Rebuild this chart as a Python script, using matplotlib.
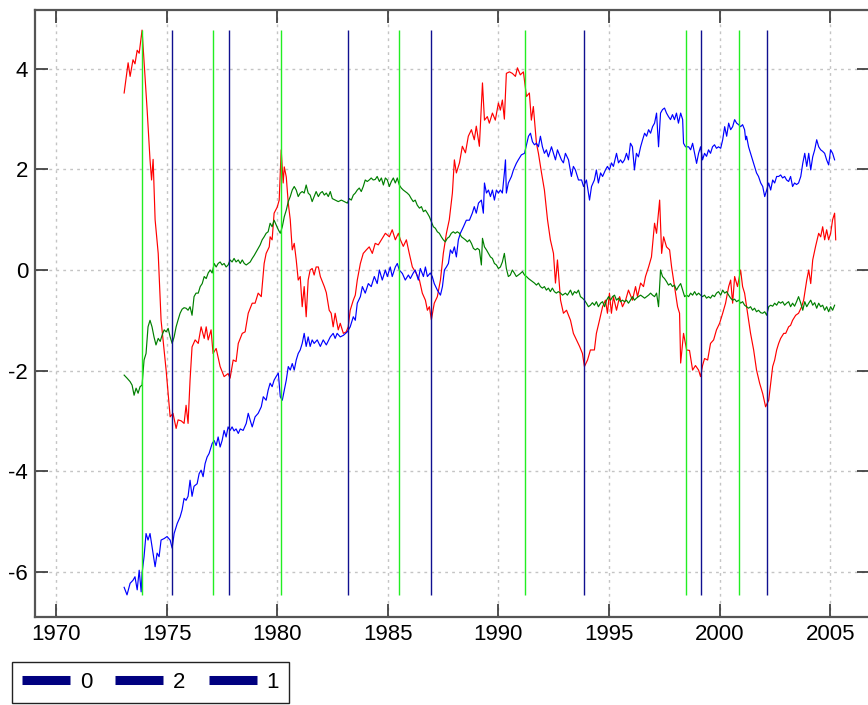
import matplotlib
matplotlib.use("Agg")
import matplotlib.pyplot as plt
from matplotlib.lines import Line2D

plt.rcParams['font.family'] = ['Liberation Sans', 'DejaVu Sans']
plt.rcParams['axes.unicode_minus'] = False

# red series (year, value)
red_years = [1973.08, 1973.26, 1973.35, 1973.48, 1973.57, 1973.67, 1973.76, 1973.89, 1974.12, 1974.25,
             1974.32, 1974.39, 1974.48, 1974.62, 1974.75, 1974.98, 1975.16, 1975.29, 1975.43, 1975.52,
             1975.66, 1975.79, 1975.88, 1975.97, 1976.06, 1976.15, 1976.29, 1976.43, 1976.56, 1976.70,
             1976.79, 1976.88, 1977.01, 1977.10, 1977.24, 1977.42, 1977.60, 1977.78, 1977.87, 1978.01,
             1978.14, 1978.24, 1978.42, 1978.55, 1978.69, 1978.87, 1979.00, 1979.14, 1979.28, 1979.41,
             1979.50, 1979.64, 1979.68, 1979.77, 1979.86, 1980.00, 1980.09, 1980.18, 1980.27, 1980.32,
             1980.41, 1980.50, 1980.59, 1980.68, 1980.77, 1980.86, 1980.95, 1981.04, 1981.13, 1981.22,
             1981.31, 1981.40, 1981.49, 1981.58, 1981.67, 1981.76, 1981.86, 1981.95, 1982.13, 1982.22,
             1982.35, 1982.44, 1982.53, 1982.62, 1982.76, 1982.85, 1982.99, 1983.12, 1983.21, 1983.30,
             1983.44, 1983.53, 1983.62, 1983.76, 1983.89, 1984.03, 1984.16, 1984.30, 1984.43, 1984.57,
             1984.71, 1984.89, 1985.07, 1985.20, 1985.34, 1985.48, 1985.57, 1985.70, 1985.84, 1985.97,
             1986.11, 1986.29, 1986.43, 1986.56, 1986.70, 1986.79, 1986.88, 1986.97, 1987.10, 1987.24,
             1987.38, 1987.51, 1987.65, 1987.78, 1987.92, 1988.01, 1988.10, 1988.24, 1988.37, 1988.51,
             1988.64, 1988.78, 1988.91, 1989.00, 1989.14, 1989.28, 1989.37, 1989.50, 1989.59, 1989.73,
             1989.86, 1990.00, 1990.09, 1990.18, 1990.27, 1990.36, 1990.50, 1990.63, 1990.77, 1990.86,
             1990.99, 1991.13, 1991.27, 1991.40, 1991.49, 1991.58, 1991.72, 1991.81, 1991.95, 1992.08,
             1992.22, 1992.35, 1992.49, 1992.58, 1992.67, 1992.81, 1992.94, 1993.08, 1993.26, 1993.39,
             1993.53, 1993.67, 1993.80, 1993.89, 1994.03, 1994.16, 1994.34, 1994.43, 1994.57, 1994.71,
             1994.84, 1994.93, 1995.02, 1995.11, 1995.20, 1995.34, 1995.48, 1995.61, 1995.75, 1995.88,
             1996.06, 1996.20, 1996.29, 1996.43, 1996.56, 1996.65, 1996.79, 1996.92, 1997.06, 1997.15,
             1997.29, 1997.38, 1997.47, 1997.60, 1997.74, 1997.83, 1997.92, 1998.01, 1998.10, 1998.19,
             1998.24, 1998.37, 1998.51, 1998.64, 1998.78, 1998.91, 1999.05, 1999.14, 1999.23, 1999.32,
             1999.46, 1999.59, 1999.73, 1999.86, 2000.00, 2000.14, 2000.27, 2000.41, 2000.50, 2000.59,
             2000.68, 2000.81, 2000.95, 2001.04, 2001.13, 2001.22, 2001.40, 2001.54, 2001.67, 2001.81,
             2001.95, 2002.08, 2002.22, 2002.31, 2002.40, 2002.49, 2002.58, 2002.67, 2002.76, 2002.90,
             2002.99, 2003.12, 2003.21, 2003.30, 2003.44, 2003.57, 2003.71, 2003.80, 2003.94, 2004.03,
             2004.12, 2004.21, 2004.34, 2004.48, 2004.57, 2004.66, 2004.75, 2004.84, 2004.93, 2005.02,
             2005.11, 2005.20, 2005.25]
red_vals = [3.52, 4.12, 3.85, 4.18, 4.10, 4.37, 4.31, 4.77, 3.18, 2.19,
            1.79, 2.20, 1.00, 0.33, -1.00, -2.00, -2.92, -2.85, -3.15, -2.98,
            -3.00, -3.05, -2.69, -3.05, -2.19, -1.53, -1.39, -1.46, -1.13, -1.36,
            -1.13, -1.39, -1.19, -1.66, -1.56, -1.92, -2.12, -2.06, -2.15, -1.79,
            -1.82, -1.46, -1.26, -1.23, -0.86, -0.66, -0.66, -0.46, -0.53, 0.13,
            0.33, 0.46, 0.66, 0.60, 1.13, 1.25, 1.39, 2.39, 1.73, 2.05,
            1.85, 1.33, 1.00, 0.40, 0.53, 0.20, -0.20, -0.13, -0.73, -0.33,
            -0.93, -0.20, 0.00, 0.03, -0.10, 0.06, 0.06, -0.13, -0.33, -0.45,
            -0.80, -0.86, -1.13, -0.86, -1.19, -1.06, -1.26, -1.23, -1.13, -0.80,
            -0.60, -0.50, -0.20, 0.13, 0.33, 0.40, 0.46, 0.33, 0.53, 0.50,
            0.60, 0.73, 0.66, 0.80, 0.60, 0.73, 0.60, 0.47, 0.60, 0.33,
            0.06, -0.07, -0.20, -0.46, -0.60, -0.80, -0.73, -0.99, -0.66, -0.53,
            -0.20, 0.33, 0.73, 1.00, 1.53, 2.19, 1.93, 2.13, 2.46, 2.33,
            2.66, 2.79, 2.59, 2.86, 2.46, 3.72, 2.98, 3.05, 2.92, 3.12,
            2.98, 3.32, 3.18, 3.38, 3.00, 3.91, 3.94, 3.91, 3.85, 4.02,
            3.88, 3.94, 3.45, 3.52, 2.98, 3.25, 2.52, 2.32, 1.93, 1.59,
            1.00, 0.60, 0.33, -0.26, 0.20, -0.60, -0.86, -0.80, -1.00, -1.26,
            -1.39, -1.52, -1.66, -1.92, -1.79, -1.59, -1.59, -1.26, -1.00, -0.73,
            -0.60, -0.86, -0.46, -0.86, -0.53, -0.80, -0.53, -0.73, -0.60, -0.40,
            -0.60, -0.33, -0.53, -0.26, -0.33, -0.13, 0.06, 0.26, 0.93, 0.73,
            1.39, 0.33, 0.66, 0.46, 0.40, 0.06, -0.20, -0.46, -0.73, -0.86,
            -1.85, -1.26, -1.59, -1.60, -1.99, -1.90, -1.99, -2.12, -1.90, -1.76,
            -1.79, -1.46, -1.39, -1.19, -1.06, -0.86, -0.66, -0.33, -0.20, -0.66,
            -0.13, -0.33, 0.00, -0.33, -0.46, -0.73, -1.26, -1.59, -1.99, -2.25,
            -2.46, -2.72, -2.59, -2.25, -1.92, -1.79, -1.59, -1.46, -1.36, -1.26,
            -1.26, -1.13, -1.10, -1.00, -0.90, -0.86, -0.73, -0.60, -0.20, 0.00,
            -0.27, 0.20, 0.47, 0.73, 0.66, 0.86, 0.60, 0.80, 0.60, 0.73,
            1.00, 1.13, 0.60]

# blue series
blue_years = [1973.08, 1973.21, 1973.35, 1973.48, 1973.57, 1973.67, 1973.76, 1973.85, 1973.89, 1973.98,
              1974.07, 1974.16, 1974.25, 1974.34, 1974.48, 1974.57, 1974.66, 1974.75, 1974.89, 1975.02,
              1975.16, 1975.25, 1975.34, 1975.48, 1975.61, 1975.70, 1975.79, 1975.88, 1975.97, 1976.06,
              1976.15, 1976.24, 1976.38, 1976.47, 1976.56, 1976.65, 1976.74, 1976.83, 1976.92, 1977.06,
              1977.15, 1977.24, 1977.33, 1977.42, 1977.51, 1977.60, 1977.69, 1977.78, 1977.87, 1977.96,
              1978.05, 1978.14, 1978.24, 1978.33, 1978.46, 1978.60, 1978.69, 1978.78, 1978.87, 1979.00,
              1979.14, 1979.28, 1979.37, 1979.50, 1979.59, 1979.68, 1979.77, 1979.86, 1979.95, 1980.05,
              1980.14, 1980.23, 1980.32, 1980.41, 1980.50, 1980.59, 1980.68, 1980.77, 1980.86, 1980.95,
              1981.04, 1981.13, 1981.22, 1981.31, 1981.40, 1981.49, 1981.58, 1981.67, 1981.81, 1981.95,
              1982.08, 1982.22, 1982.40, 1982.53, 1982.62, 1982.71, 1982.85, 1982.99, 1983.17, 1983.30,
              1983.44, 1983.53, 1983.62, 1983.76, 1983.85, 1983.98, 1984.12, 1984.25, 1984.39, 1984.52,
              1984.62, 1984.75, 1984.89, 1984.98, 1985.11, 1985.20, 1985.34, 1985.43, 1985.52, 1985.66,
              1985.79, 1985.93, 1986.02, 1986.15, 1986.24, 1986.38, 1986.47, 1986.61, 1986.70, 1986.79,
              1986.92, 1987.01, 1987.10, 1987.24, 1987.38, 1987.47, 1987.56, 1987.65, 1987.74, 1987.83,
              1987.92, 1988.01, 1988.10, 1988.19, 1988.28, 1988.42, 1988.55, 1988.69, 1988.82, 1988.91,
              1989.00, 1989.10, 1989.23, 1989.32, 1989.37, 1989.46, 1989.55, 1989.64, 1989.73, 1989.82,
              1989.91, 1990.00, 1990.09, 1990.18, 1990.27, 1990.32, 1990.36, 1990.45, 1990.59, 1990.68,
              1990.81, 1990.90, 1991.04, 1991.18, 1991.27, 1991.36, 1991.45, 1991.54, 1991.63, 1991.72,
              1991.81, 1991.90, 1991.99, 1992.08, 1992.17, 1992.26, 1992.40, 1992.49, 1992.58, 1992.67,
              1992.76, 1992.85, 1992.94, 1993.03, 1993.17, 1993.30, 1993.39, 1993.48, 1993.62, 1993.76,
              1993.85, 1993.98, 1994.12, 1994.21, 1994.34, 1994.43, 1994.52, 1994.62, 1994.71, 1994.84,
              1994.93, 1995.02, 1995.11, 1995.20, 1995.34, 1995.43, 1995.52, 1995.61, 1995.70, 1995.79,
              1995.88, 1995.97, 1996.06, 1996.15, 1996.24, 1996.33, 1996.43, 1996.52, 1996.61, 1996.70,
              1996.79, 1996.88, 1996.97, 1997.06, 1997.15, 1997.24, 1997.33, 1997.42, 1997.51, 1997.60,
              1997.69, 1997.78, 1997.87, 1997.96, 1998.05, 1998.14, 1998.24, 1998.33, 1998.37, 1998.46,
              1998.60, 1998.69, 1998.78, 1998.87, 1998.96, 1999.05, 1999.14, 1999.23, 1999.32, 1999.41,
              1999.50, 1999.59, 1999.68, 1999.77, 1999.86, 1999.95, 2000.05, 2000.14, 2000.23, 2000.32,
              2000.41, 2000.50, 2000.59, 2000.68, 2000.77, 2000.86, 2000.95, 2001.04, 2001.13, 2001.18,
              2001.22, 2001.31, 2001.40, 2001.49, 2001.58, 2001.67, 2001.76, 2001.86, 2001.95, 2002.04,
              2002.13, 2002.22, 2002.31, 2002.40, 2002.49, 2002.58, 2002.67, 2002.76, 2002.85, 2002.94,
              2003.03, 2003.12, 2003.21, 2003.30, 2003.39, 2003.48, 2003.57, 2003.67, 2003.76, 2003.85,
              2003.94, 2004.03, 2004.12, 2004.21, 2004.30, 2004.39, 2004.48, 2004.57, 2004.66, 2004.75,
              2004.84, 2004.93, 2005.02, 2005.11, 2005.20]
blue_vals = [-6.31, -6.46, -6.23, -6.17, -6.10, -6.36, -5.97, -6.40, -6.03, -5.70,
             -5.24, -5.37, -5.24, -5.50, -5.90, -5.63, -5.70, -5.37, -5.34, -5.30,
             -5.37, -5.53, -5.24, -5.04, -4.91, -4.77, -4.54, -4.58, -4.50, -4.18,
             -4.50, -4.30, -4.25, -4.05, -3.98, -4.11, -3.85, -3.72, -3.65, -3.45,
             -3.39, -3.49, -3.32, -3.52, -3.39, -3.19, -3.32, -3.12, -3.19, -3.12,
             -3.20, -3.16, -3.25, -3.16, -3.19, -3.05, -2.85, -2.99, -3.12, -2.92,
             -2.85, -2.72, -2.52, -2.59, -2.39, -2.25, -2.32, -2.19, -2.12, -2.05,
             -2.52, -2.59, -2.39, -2.19, -1.92, -1.99, -1.86, -1.99, -1.79, -1.66,
             -1.59, -1.46, -1.26, -1.52, -1.33, -1.52, -1.39, -1.46, -1.39, -1.52,
             -1.39, -1.49, -1.33, -1.26, -1.36, -1.26, -1.33, -1.30, -1.23, -1.13,
             -0.93, -1.00, -0.66, -0.53, -0.33, -0.46, -0.27, -0.33, -0.13, -0.27,
             0.00, -0.20, 0.00, -0.13, 0.06, -0.13, 0.06, 0.13, 0.00, -0.07,
             -0.20, -0.10, -0.17, -0.06, 0.00, -0.20, 0.03, -0.13, 0.06, -0.13,
             -0.06, -0.13, -0.27, -0.40, -0.50, -0.33, 0.00, 0.06, 0.13, 0.40,
             0.33, 0.46, 0.26, 0.60, 0.73, 0.86, 0.99, 0.99, 1.13, 1.26,
             1.13, 1.33, 1.39, 1.13, 1.73, 1.53, 1.59, 1.46, 1.59, 1.39,
             1.59, 1.53, 1.59, 1.53, 1.93, 2.19, 1.53, 1.73, 1.86, 1.99,
             2.12, 2.19, 2.29, 2.32, 2.49, 2.66, 2.72, 2.55, 2.49, 2.52,
             2.45, 2.66, 2.45, 2.32, 2.39, 2.25, 2.45, 2.32, 2.19, 2.39,
             2.29, 2.19, 2.13, 2.32, 2.19, 1.86, 2.06, 1.99, 1.79, 1.79,
             1.66, 1.79, 1.39, 1.66, 1.79, 1.99, 1.73, 1.93, 1.86, 1.99,
             2.06, 1.99, 2.13, 2.06, 2.32, 2.13, 2.19, 2.13, 2.19, 2.32,
             2.19, 2.52, 2.45, 1.99, 2.32, 2.25, 2.45, 2.59, 2.72, 2.66,
             2.79, 2.72, 2.85, 2.92, 3.12, 2.45, 3.12, 3.19, 3.22, 3.12,
             3.05, 2.99, 3.09, 2.99, 3.12, 2.92, 3.12, 2.99, 2.52, 2.45,
             2.45, 2.39, 2.52, 2.32, 2.12, 2.32, 2.45, 2.19, 2.32, 2.26,
             2.39, 2.32, 2.45, 2.49, 2.42, 2.45, 2.42, 2.59, 2.85, 2.66,
             2.92, 2.79, 2.85, 2.99, 2.92, 2.89, 2.85, 2.89, 2.79, 2.59,
             2.66, 2.45, 2.32, 2.19, 2.06, 1.93, 1.86, 1.73, 1.66, 1.46,
             1.59, 1.73, 1.59, 1.79, 1.73, 1.86, 1.86, 1.89, 1.83, 1.86,
             1.79, 1.76, 1.86, 1.66, 1.73, 1.70, 1.73, 1.86, 2.12, 2.32,
             2.06, 2.32, 1.99, 2.25, 2.39, 2.59, 2.45, 2.39, 2.36, 2.32,
             2.19, 2.09, 2.39, 2.32, 2.19]

# green series
green_years = [1973.08, 1973.21, 1973.35, 1973.44, 1973.53, 1973.62, 1973.71, 1973.80, 1973.89, 1973.98,
               1974.07, 1974.16, 1974.25, 1974.34, 1974.43, 1974.52, 1974.62, 1974.71, 1974.80, 1974.89,
               1974.98, 1975.07, 1975.16, 1975.25, 1975.34, 1975.43, 1975.52, 1975.61, 1975.70, 1975.79,
               1975.88, 1975.97, 1976.06, 1976.15, 1976.24, 1976.33, 1976.43, 1976.52, 1976.61, 1976.70,
               1976.79, 1976.88, 1976.97, 1977.06, 1977.15, 1977.24, 1977.33, 1977.42, 1977.51, 1977.60,
               1977.69, 1977.78, 1977.87, 1977.96, 1978.05, 1978.14, 1978.24, 1978.33, 1978.42, 1978.51,
               1978.60, 1978.69, 1978.78, 1978.87, 1978.96, 1979.05, 1979.14, 1979.23, 1979.32, 1979.41,
               1979.50, 1979.59, 1979.68, 1979.77, 1979.86, 1979.95, 1980.05, 1980.14, 1980.23, 1980.32,
               1980.41, 1980.50, 1980.59, 1980.68, 1980.77, 1980.86, 1980.95, 1981.04, 1981.13, 1981.22,
               1981.31, 1981.40, 1981.49, 1981.58, 1981.67, 1981.76, 1981.86, 1981.95, 1982.04, 1982.13,
               1982.22, 1982.31, 1982.40, 1982.49, 1982.62, 1982.76, 1982.90, 1983.03, 1983.17, 1983.26,
               1983.35, 1983.44, 1983.53, 1983.62, 1983.71, 1983.80, 1983.89, 1983.98, 1984.07, 1984.16,
               1984.25, 1984.34, 1984.43, 1984.52, 1984.62, 1984.71, 1984.80, 1984.89, 1984.98, 1985.07,
               1985.16, 1985.25, 1985.34, 1985.43, 1985.52, 1985.61, 1985.70, 1985.79, 1985.88, 1985.97,
               1986.06, 1986.15, 1986.24, 1986.33, 1986.43, 1986.52, 1986.61, 1986.70, 1986.79, 1986.88,
               1986.97, 1987.06, 1987.15, 1987.24, 1987.33, 1987.42, 1987.51, 1987.60, 1987.69, 1987.78,
               1987.87, 1987.96, 1988.05, 1988.14, 1988.24, 1988.33, 1988.42, 1988.51, 1988.60, 1988.69,
               1988.78, 1988.87, 1988.96, 1989.05, 1989.14, 1989.23, 1989.28, 1989.37, 1989.46, 1989.55,
               1989.64, 1989.73, 1989.82, 1989.91, 1990.00, 1990.09, 1990.18, 1990.27, 1990.36, 1990.45,
               1990.54, 1990.63, 1990.72, 1990.81, 1990.90, 1990.99, 1991.09, 1991.18, 1991.27, 1991.36,
               1991.45, 1991.54, 1991.63, 1991.72, 1991.81, 1991.90, 1991.99, 1992.08, 1992.17, 1992.26,
               1992.35, 1992.44, 1992.53, 1992.62, 1992.71, 1992.81, 1992.90, 1993.03, 1993.12, 1993.26,
               1993.35, 1993.44, 1993.53, 1993.62, 1993.71, 1993.80, 1993.89, 1993.98, 1994.07, 1994.16,
               1994.25, 1994.34, 1994.43, 1994.52, 1994.62, 1994.71, 1994.80, 1994.89, 1994.98, 1995.07,
               1995.16, 1995.25, 1995.34, 1995.43, 1995.52, 1995.61, 1995.70, 1995.79, 1995.88, 1995.97,
               1996.06, 1996.15, 1996.24, 1996.33, 1996.43, 1996.52, 1996.61, 1996.70, 1996.79, 1996.88,
               1996.97, 1997.06, 1997.15, 1997.24, 1997.33, 1997.42, 1997.51, 1997.60, 1997.69, 1997.78,
               1997.87, 1997.96, 1998.05, 1998.14, 1998.24, 1998.33, 1998.42, 1998.51, 1998.60, 1998.69,
               1998.78, 1998.87, 1998.96, 1999.05, 1999.14, 1999.23, 1999.32, 1999.41, 1999.50, 1999.59,
               1999.68, 1999.77, 1999.86, 1999.95, 2000.05, 2000.14, 2000.23, 2000.32, 2000.41, 2000.50,
               2000.59, 2000.68, 2000.77, 2000.86, 2000.95, 2001.04, 2001.13, 2001.22, 2001.31, 2001.40,
               2001.49, 2001.58, 2001.67, 2001.76, 2001.86, 2001.95, 2002.04, 2002.13, 2002.22, 2002.31,
               2002.40, 2002.49, 2002.58, 2002.67, 2002.76, 2002.85, 2002.94, 2003.03, 2003.12, 2003.21,
               2003.30, 2003.39, 2003.48, 2003.57, 2003.67, 2003.76, 2003.85, 2003.94, 2004.03, 2004.12,
               2004.21, 2004.30, 2004.39, 2004.48, 2004.57, 2004.66, 2004.75, 2004.84, 2004.93, 2005.02,
               2005.11, 2005.20]
green_vals = [-2.09, -2.15, -2.22, -2.29, -2.49, -2.35, -2.45, -2.32, -2.29, -1.79,
              -1.66, -1.13, -1.00, -1.13, -1.33, -1.49, -1.36, -1.42, -1.29, -1.19,
              -1.23, -1.16, -1.33, -1.46, -1.33, -1.13, -0.99, -0.86, -0.78, -0.75,
              -0.76, -0.80, -0.73, -0.90, -0.53, -0.46, -0.46, -0.33, -0.27, -0.13,
              -0.17, -0.06, 0.00, -0.06, 0.13, 0.06, 0.13, 0.16, 0.10, 0.13,
              0.06, 0.10, 0.20, 0.16, 0.23, 0.16, 0.20, 0.13, 0.20, 0.13,
              0.10, 0.13, 0.16, 0.23, 0.29, 0.36, 0.43, 0.50, 0.60, 0.66,
              0.73, 0.76, 0.93, 0.86, 0.99, 0.90, 0.80, 0.73, 0.86, 1.06,
              1.19, 1.36, 1.46, 1.59, 1.66, 1.59, 1.46, 1.53, 1.56, 1.53,
              1.69, 1.53, 1.49, 1.36, 1.46, 1.56, 1.46, 1.53, 1.56, 1.49,
              1.53, 1.46, 1.56, 1.42, 1.39, 1.36, 1.39, 1.36, 1.33, 1.42,
              1.39, 1.49, 1.53, 1.59, 1.63, 1.56, 1.66, 1.79, 1.76, 1.79,
              1.83, 1.79, 1.80, 1.86, 1.76, 1.83, 1.69, 1.83, 1.79, 1.66,
              1.76, 1.83, 1.73, 1.83, 1.69, 1.63, 1.59, 1.56, 1.53, 1.49,
              1.42, 1.36, 1.39, 1.29, 1.23, 1.26, 1.16, 1.19, 1.13, 1.06,
              0.96, 0.86, 0.83, 0.76, 0.73, 0.66, 0.60, 0.56, 0.63, 0.66,
              0.73, 0.76, 0.73, 0.76, 0.73, 0.66, 0.63, 0.60, 0.56, 0.60,
              0.53, 0.43, 0.40, 0.43, 0.40, 0.10, 0.63, 0.46, 0.40, 0.33,
              0.26, 0.23, 0.13, 0.10, 0.03, 0.06, 0.16, 0.33, 0.03, -0.13,
              -0.10, 0.00, -0.06, -0.13, -0.10, -0.07, -0.03, -0.10, -0.13, -0.17,
              -0.20, -0.23, -0.26, -0.30, -0.26, -0.33, -0.36, -0.33, -0.40, -0.36,
              -0.43, -0.36, -0.43, -0.46, -0.43, -0.46, -0.50, -0.46, -0.50, -0.40,
              -0.50, -0.43, -0.46, -0.40, -0.53, -0.56, -0.60, -0.66, -0.73, -0.70,
              -0.65, -0.70, -0.63, -0.73, -0.66, -0.63, -0.73, -0.60, -0.53, -0.60,
              -0.53, -0.50, -0.60, -0.56, -0.63, -0.60, -0.63, -0.60, -0.66, -0.60,
              -0.53, -0.60, -0.56, -0.53, -0.50, -0.53, -0.56, -0.53, -0.50, -0.46,
              -0.50, -0.53, -0.46, -0.73, 0.00, -0.13, -0.17, -0.23, -0.30, -0.27,
              -0.33, -0.30, -0.40, -0.33, -0.27, -0.40, -0.53, -0.50, -0.53, -0.46,
              -0.50, -0.43, -0.50, -0.46, -0.50, -0.53, -0.50, -0.56, -0.53, -0.56,
              -0.50, -0.53, -0.46, -0.43, -0.50, -0.40, -0.46, -0.43, -0.50, -0.56,
              -0.60, -0.58, -0.63, -0.60, -0.66, -0.63, -0.70, -0.73, -0.76, -0.73,
              -0.80, -0.76, -0.83, -0.80, -0.85, -0.86, -0.83, -0.90, -0.73, -0.70,
              -0.72, -0.66, -0.70, -0.63, -0.66, -0.63, -0.70, -0.66, -0.63, -0.73,
              -0.66, -0.72, -0.63, -0.53, -0.66, -0.80, -0.63, -0.73, -0.66, -0.60,
              -0.70, -0.65, -0.76, -0.66, -0.73, -0.70, -0.80, -0.73, -0.83, -0.73,
              -0.80, -0.70]

# vertical marker dates
green_marks = [1973.89, 1977.09, 1980.18, 1985.52, 1991.21, 1998.48, 2000.90]
navy_marks = [1975.25, 1977.84, 1983.20, 1986.95, 1993.88, 1999.14, 2002.16]

legend_labels = ['0', '2', '1']
x_ticks = [1970, 1975, 1980, 1985, 1990, 1995, 2000, 2005]
y_ticks = [-6, -4, -2, 0, 2, 4]


def main():
    fig = plt.figure(figsize=(8.68, 7.05), dpi=100)
    ax = fig.add_axes([35 / 868, 1 - 617 / 705, 835 / 868, 607 / 705])

    lo = min(min(red_vals), min(blue_vals), min(green_vals))
    hi = max(max(red_vals), max(blue_vals), max(green_vals))

    ax.vlines(green_marks, lo, hi, color='#22ee22', lw=1.0, zorder=3)
    ax.vlines(navy_marks, lo, hi, color='#101090', lw=1.0, zorder=3)

    ax.plot(red_years, red_vals, color='#ff0000', lw=0.85, zorder=2)
    ax.plot(blue_years, blue_vals, color='#0000ff', lw=0.85, zorder=2)
    ax.plot(green_years, green_vals, color='#007f00', lw=0.85, zorder=2)

    ax.set_xlim(1969.05, 2006.8)
    ax.set_ylim(-6.9, 5.17)
    ax.set_xticks(x_ticks)
    ax.set_yticks(y_ticks)
    ax.grid(True, color='#c4c4c4', linestyle=(0, (2, 3)), lw=1)
    ax.set_axisbelow(True)

    ax.tick_params(direction='in', length=9.5, width=1.2, color='#333333',
                   top=True, right=True, labelsize=16, pad=5)
    for s in ax.spines.values():
        s.set_color('#555555')
        s.set_linewidth(1.6)

    handles = [Line2D([], [], color='#000080', lw=6.5, solid_capstyle='butt')
               for _ in legend_labels]
    leg = fig.legend(handles, legend_labels, loc='lower left', ncol=3,
                     bbox_to_anchor=(12 / 868, 2 / 705), bbox_transform=fig.transFigure,
                     fontsize=16, fancybox=False, framealpha=1, edgecolor='#222222',
                     handlelength=2.15, handletextpad=0.45, columnspacing=1.05,
                     borderpad=0.45, borderaxespad=0)
    leg.get_frame().set_linewidth(1.0)

    fig.savefig('out.png', dpi=100)


if __name__ == "__main__":
    main()
